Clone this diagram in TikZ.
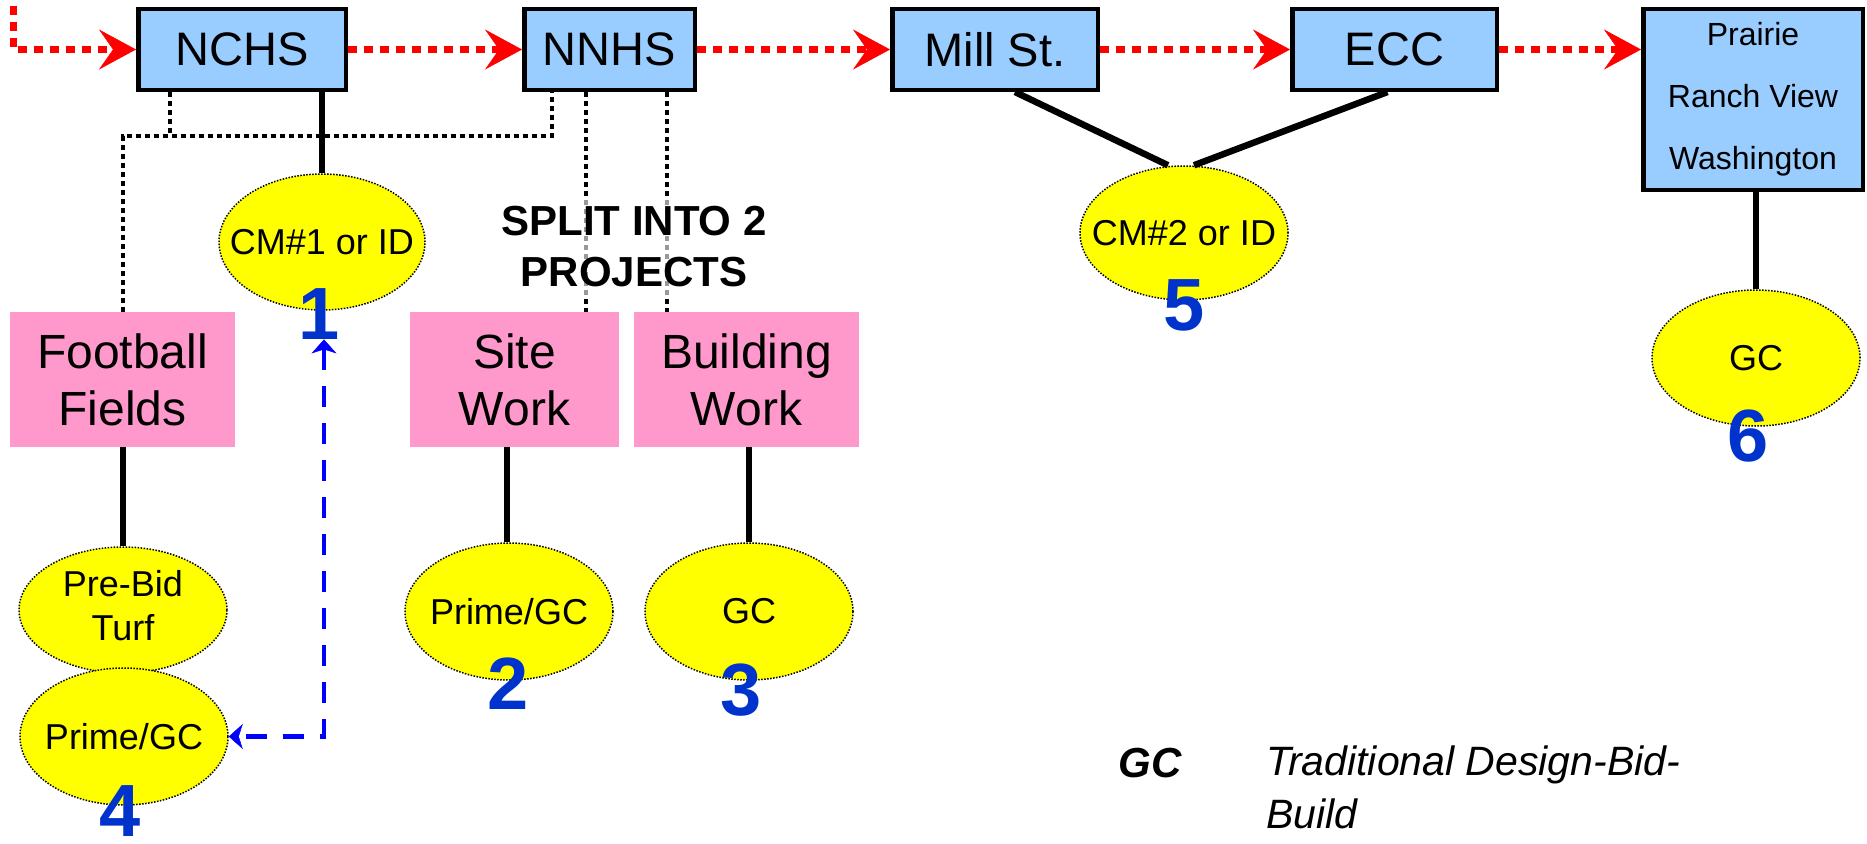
\documentclass[tikz,border=0pt]{standalone}
\usepackage{fontspec}
\setmainfont{Liberation Sans}
\usepackage{tikz}
\usetikzlibrary{shapes,arrows.meta,positioning,calc}
\definecolor{siteBlue}{HTML}{99CCFF}
\definecolor{workPink}{HTML}{FF99CC}
\definecolor{ovalYellow}{HTML}{FFFF00}
\definecolor{flowRed}{HTML}{FF0000}
\definecolor{numBlue}{HTML}{0033CC}
\definecolor{backBlue}{HTML}{0000FF}
\tikzset{
    siteBox/.style={
        rectangle,
        draw=black,
        line width=4.5pt,
        fill=siteBlue,
        minimum height=80.5pt,
        inner sep=0pt,
        align=center,
        font=\fontsize{47}{56}\selectfont
    },
    workBox/.style={
        rectangle,
        fill=workPink,
        minimum height=135pt,
        inner sep=0pt,
        align=center,
        font=\fontsize{48}{57}\selectfont
    },
    ovalBase/.style={
        ellipse,
        draw=black,
        line width=1.5pt,
        dash pattern=on 1.5pt off 1.5pt,
        fill=ovalYellow,
        minimum width=208pt,
        minimum height=137pt,
        inner sep=0pt,
        font=\fontsize{36}{44}\selectfont
    },
    % Labels
    numLabel/.style={font=\bfseries\fontsize{74}{80}\selectfont, text=numBlue, inner sep=0pt},
    noteText/.style={font=\bfseries\fontsize{42}{51}\selectfont, align=center, inner sep=10pt,
        fill=white, fill opacity=0.6, text opacity=1},
    keyText/.style={font=\itshape\fontsize{41}{53}\selectfont, inner sep=0pt},
    % Connectors
    flowArrow/.style={draw=flowRed, line width=7pt, dash pattern=on 9pt off 7pt,
        -{Stealth[length=37pt,width=40pt,inset=14pt,line width=0.5pt]}},
    linkSolid/.style={draw=black, line width=6.5pt},
    linkDot/.style={draw=black, line width=4pt, dash pattern=on 5pt off 4pt},
    backArrow/.style={draw=backBlue, line width=4.5pt, dash pattern=on 21pt off 16pt,
        {Stealth[length=14pt,width=25pt,inset=4pt,line width=0.5pt]}-{Stealth[length=14pt,width=25pt,inset=4pt,line width=0.5pt]}}
}
\newcommand{\oneline}[1]{\makebox[0pt]{#1}}
\newcommand{\twoline}[2]{\makebox[0pt]{\begin{tabular}{@{}c@{}}#1\\#2\end{tabular}}}

\begin{document}
\begin{tikzpicture}[x=1pt, y=-1pt]
\useasboundingbox (0,0) rectangle (1867,843);

% school sites
\node[siteBox, minimum width=207.5pt] (ncs) at (242,49.5) {NCHS};
\node[siteBox, minimum width=170.5pt] (nnhs) at (609.5,49.5) {NNHS};
\node[siteBox, minimum width=205.5pt] (mill) at (995,49.5) {Mill St.};
\node[siteBox, minimum width=204.5pt] (ecc) at (1394.5,49.5) {ECC};
\node[siteBox, minimum width=219.5pt, minimum height=180.5pt,
      font=\fontsize{32}{62}\selectfont] (prairie) at (1753,99.5) {Prairie\\Ranch View\\Washington};

% work packages
\node[workBox, minimum width=225pt] (football) at (122.5,379.5) {Football\\Fields};
\node[workBox, minimum width=209pt] (site) at (514.5,379.5) {Site\\Work};
\node[workBox, minimum width=225pt] (building) at (746.5,379.5) {Building\\Work};

% delivery methods
\node[ovalBase, minimum width=206pt, minimum height=136pt] (e1) at (322,242) {\oneline{CM\#1 or ID}};
\node[ovalBase] (e2) at (509,611.5) {\oneline{Prime/GC}};
\node[ovalBase] (e3) at (749,611.5) {\oneline{GC}};
\node[ovalBase, minimum height=126pt] (prebid) at (123,610) {\twoline{Pre-Bid}{Turf}};
\node[ovalBase] (e4) at (124,736.5) {\oneline{Prime/GC}};
\node[ovalBase, minimum height=134pt] (e5) at (1184,233) {\oneline{CM\#2 or ID}};
\node[ovalBase, minimum height=136pt] (e6) at (1756,358) {\oneline{GC}};

\node[numLabel] (n1) at ([shift={(-3pt,-3pt)}]e1.south) {1};
\node[numLabel] (n2) at ([shift={(-1pt,-3pt)}]e2.south) {2};
\node[numLabel] (n3) at ([shift={(-8pt,-9pt)}]e3.south) {3};
\node[numLabel] (n4) at ([shift={(-4pt,-5pt)}]e4.south) {4};
\node[numLabel] (n5) at ([shift={(0pt,-5pt)}]e5.south) {5};
\node[numLabel] (n6) at ([shift={(-8pt,-9pt)}]e6.south) {6};

% sequence
\coordinate (start) at (13,-10);
\draw[flowArrow] (start) |- (ncs.west);
\draw[flowArrow] (ncs) -- (nnhs);
\draw[flowArrow] (nnhs) -- (mill);
\draw[flowArrow] (mill) -- (ecc);
\draw[flowArrow] (ecc.east) -- (ecc.east -| prairie.west);

% links
\draw[linkSolid] (e1.north |- ncs.south) -- (e1.north);
\draw[linkSolid] (prebid.north |- football.south) -- (prebid.north);
\draw[linkSolid] ([xshift=-2pt]e2.north |- site.south) -- ([xshift=-2pt]e2.north);
\draw[linkSolid] (e3.north |- building.south) -- (e3.north);
\draw[linkSolid] ([xshift=20pt]mill.south) -- ([xshift=-16pt]e5.north);
\draw[linkSolid] ([xshift=-7pt]ecc.south) -- ([xshift=10pt]e5.north);
\draw[linkSolid] (e6.north |- prairie.south) -- (e6.north);

\coordinate (ncsL) at ([xshift=-72pt]ncs.south);
\coordinate (nnhsL) at ([xshift=-58pt]nnhs.south);
\coordinate (nnhsA) at ([xshift=-24pt]nnhs.south);
\coordinate (nnhsB) at ([xshift=57pt]nnhs.south);
\draw[linkDot] (football.north) |- ($(nnhsL)+(0,44)$) -- (nnhsL);
\draw[linkDot] (ncsL) -- ++(0,44);
\draw[linkDot] (nnhsA) -- (nnhsA |- site.north);
\draw[linkDot] (nnhsB) -- (nnhsB |- building.north);

\draw[backArrow] ([xshift=5pt]n1.south) |- (e4.east);

\node[noteText] (split) at (634,246.5) {SPLIT INTO 2\\PROJECTS};

% key
\node[keyText, font=\bfseries\itshape\fontsize{42}{51}\selectfont, anchor=base] (keyGC) at (1150,777) {GC};
\node[keyText, anchor=north west, align=left] (keyDBB) at (1266,746) {Traditional Design-Bid-\\Build};
\end{tikzpicture}
\end{document}
